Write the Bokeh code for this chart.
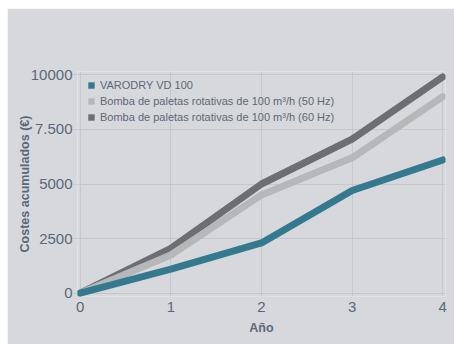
from bokeh.plotting import figure
from bokeh.models import Range1d, Legend, LegendItem, FixedTicker
from bokeh.embed import file_html
from bokeh.resources import INLINE

# Cumulative costs per year
years = [0, 1, 2, 3, 4]
varodry = [0, 1100, 2300, 4700, 6100]
bomba_50hz = [0, 1750, 4500, 6200, 9000]
bomba_60hz = [0, 2050, 5000, 7050, 9900]

series_names = [
    "VARODRY VD 100",
    "Bomba de paletas rotativas de 100 m³/h (50 Hz)",
    "Bomba de paletas rotativas de 100 m³/h (60 Hz)",
]
series_colors = ["#347a8e", "#b5b7b9", "#6d6e71"]

y_ticks = [0, 2500, 5000, 7500, 10000]
y_tick_labels = ["0", "2500", "5000", "7.500", "10000"]
x_ticks = [0, 1, 2, 3, 4]

BG = "#d7d8dc"
GRID = "#c6c7cb"
TEXT = "#5b6877"
FONT = "Liberation Sans"

p = figure(
    width=447, height=336,
    x_range=Range1d(-0.03, 4.03),
    y_range=Range1d(-150, 10150),
    output_backend="svg", toolbar_location=None,
    min_border_left=70, min_border_right=9,
    min_border_top=63, min_border_bottom=48,
    background_fill_color=BG, border_fill_color=BG,
    outline_line_color=None,
)
p.margin = (8, 0, 0, 7)

# grid
p.xgrid.grid_line_color = GRID
p.ygrid.grid_line_color = GRID
p.xgrid.grid_line_width = 1
p.ygrid.grid_line_width = 1

# axes
p.xaxis.ticker = FixedTicker(ticks=x_ticks)
p.yaxis.ticker = FixedTicker(ticks=y_ticks)
p.yaxis.major_label_overrides = {t: s for t, s in zip(y_ticks, y_tick_labels)}
for ax in (p.xaxis[0], p.yaxis[0]):
    ax.axis_line_color = None
    ax.minor_tick_line_color = None
    ax.major_tick_line_color = GRID
    ax.major_tick_in = 0
    ax.major_label_text_font = FONT
    ax.major_label_text_font_size = "15px"
    ax.major_label_text_color = TEXT
    ax.axis_label_text_font = FONT
    ax.axis_label_text_font_size = "12.5px"
    ax.axis_label_text_font_style = "bold"
    ax.axis_label_text_color = TEXT
p.yaxis.major_tick_out = 4
p.yaxis.major_label_standoff = 1
p.yaxis.axis_label_standoff = -4
p.xaxis.major_tick_out = 0
p.xaxis.major_label_standoff = 5
p.xaxis.axis_label_standoff = 6
p.xaxis.axis_label = "Año"
p.yaxis.axis_label = "Costes acumulados (€)"

# lines (dark first so the lighter ones sit on top)
values = [varodry, bomba_50hz, bomba_60hz]
for i in (2, 1, 0):
    p.line(years, values[i], line_color=series_colors[i], line_width=7,
           line_cap="round", line_join="round")

# square swatches for the legend
items = []
for i in range(3):
    r = p.scatter(years, values[i], marker="square", size=0,
                  fill_color=series_colors[i], line_alpha=0)
    items.append(LegendItem(label=series_names[i], renderers=[r]))

legend = Legend(
    items=items, location="top_left",
    glyph_width=16, glyph_height=16, spacing=0,
    label_standoff=1, label_height=16,
    padding=0, margin=6,
    background_fill_alpha=0, border_line_alpha=0,
    label_text_font=FONT, label_text_font_size="11px",
    label_text_color=TEXT,
)
p.add_layout(legend, "center")

open("out.html", "w").write(file_html(p, INLINE))
